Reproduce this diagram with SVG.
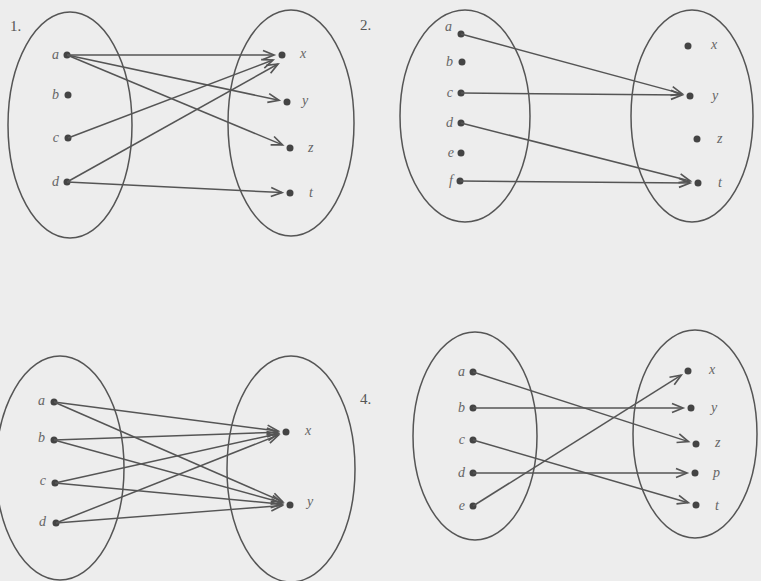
<svg xmlns="http://www.w3.org/2000/svg" width="761" height="581" viewBox="0 0 761 581">
<style>
.set{fill:none;stroke:#555;stroke-width:1.5}
.dot{fill:#444}
.lbl{font-family:"Liberation Serif","DejaVu Serif",serif;font-style:italic;font-size:14px;fill:#666}
.lblL{text-anchor:end}
.num{font-family:"Liberation Serif","DejaVu Serif",serif;font-size:15px;fill:#555}
.e{stroke:#555;stroke-width:1.5;fill:none;marker-end:url(#arr)}
</style>
<defs>
<marker id="arr" markerUnits="userSpaceOnUse" viewBox="-12 -6 13 12" refX="0" refY="0" markerWidth="13" markerHeight="12" orient="auto" overflow="visible">
<path d="M-11,-4.5 L0,0 L-11,4.5" fill="none" stroke="#555" stroke-width="1.7"/>
</marker>
</defs>
<rect width="761" height="581" fill="#ededed"/>

<text class="num" x="10" y="31">1.</text>
<text class="num" x="360" y="30">2.</text>
<text class="num" x="360" y="404">4.</text>

<!-- Panel 1 -->
<g id="p1-domain">
<ellipse class="set" cx="70" cy="125" rx="62" ry="113"/>
<circle class="dot" cx="67" cy="55" r="3.5"/><text class="lbl lblL" x="59" y="59">a</text>
<circle class="dot" cx="68" cy="95" r="3.5"/><text class="lbl lblL" x="59" y="99">b</text>
<circle class="dot" cx="68" cy="138" r="3.5"/><text class="lbl lblL" x="59" y="142">c</text>
<circle class="dot" cx="67" cy="182" r="3.5"/><text class="lbl lblL" x="59" y="186">d</text>
</g>
<g id="p1-codomain">
<ellipse class="set" cx="291" cy="123" rx="63" ry="113"/>
<circle class="dot" cx="282" cy="55" r="3.5"/><text class="lbl" x="300" y="58">x</text>
<circle class="dot" cx="287" cy="102" r="3.5"/><text class="lbl" x="302" y="105">y</text>
<circle class="dot" cx="290" cy="148" r="3.5"/><text class="lbl" x="308" y="152">z</text>
<circle class="dot" cx="290" cy="193" r="3.5"/><text class="lbl" x="309" y="197">t</text>
</g>
<g id="p1-edges">
<line class="e" x1="67" y1="55" x2="274" y2="55"/>
<line class="e" x1="67" y1="55" x2="279" y2="100.3"/>
<line class="e" x1="67" y1="55" x2="282.5" y2="144.9"/>
<line class="e" x1="68" y1="138" x2="273" y2="60"/>
<line class="e" x1="67" y1="182" x2="278" y2="64"/>
<line class="e" x1="67" y1="182" x2="282" y2="192.6"/>
</g>

<!-- Panel 2 -->
<g id="p2-domain">
<ellipse class="set" cx="465" cy="116" rx="65" ry="106"/>
<circle class="dot" cx="461" cy="34" r="3.5"/><text class="lbl lblL" x="452" y="31">a</text>
<circle class="dot" cx="462" cy="62" r="3.5"/><text class="lbl lblL" x="453" y="66">b</text>
<circle class="dot" cx="461" cy="93" r="3.5"/><text class="lbl lblL" x="453" y="97">c</text>
<circle class="dot" cx="461" cy="123" r="3.5"/><text class="lbl lblL" x="453" y="127">d</text>
<circle class="dot" cx="461" cy="153" r="3.5"/><text class="lbl lblL" x="454" y="157">e</text>
<circle class="dot" cx="460" cy="181" r="3.5"/><text class="lbl lblL" x="453" y="185">f</text>
</g>
<g id="p2-codomain">
<ellipse class="set" cx="692" cy="116" rx="61" ry="106"/>
<circle class="dot" cx="688" cy="46" r="3.5"/><text class="lbl" x="711" y="49">x</text>
<circle class="dot" cx="690" cy="96" r="3.5"/><text class="lbl" x="712" y="100">y</text>
<circle class="dot" cx="697" cy="139" r="3.5"/><text class="lbl" x="717" y="143">z</text>
<circle class="dot" cx="698" cy="183" r="3.5"/><text class="lbl" x="718" y="187">t</text>
</g>
<g id="p2-edges">
<line class="e" x1="461" y1="34" x2="682.2" y2="93.9"/>
<line class="e" x1="461" y1="93" x2="682" y2="95"/>
<line class="e" x1="461" y1="123" x2="690.2" y2="181"/>
<line class="e" x1="460" y1="181" x2="690" y2="183"/>
</g>

<!-- Panel 3 -->
<g id="p3-domain">
<ellipse class="set" cx="60" cy="468" rx="64" ry="112"/>
<circle class="dot" cx="54" cy="402" r="3.5"/><text class="lbl lblL" x="45" y="405">a</text>
<circle class="dot" cx="54" cy="440" r="3.5"/><text class="lbl lblL" x="45" y="442">b</text>
<circle class="dot" cx="55" cy="483" r="3.5"/><text class="lbl lblL" x="46" y="485">c</text>
<circle class="dot" cx="56" cy="523" r="3.5"/><text class="lbl lblL" x="46" y="526">d</text>
</g>
<g id="p3-codomain">
<ellipse class="set" cx="291" cy="469" rx="64" ry="113"/>
<circle class="dot" cx="286" cy="432" r="3.5"/><text class="lbl" x="305" y="435">x</text>
<circle class="dot" cx="290" cy="505" r="3.5"/><text class="lbl" x="307" y="506">y</text>
</g>
<g id="p3-edges">
<line class="e" x1="54" y1="402" x2="278" y2="431"/>
<line class="e" x1="54" y1="402" x2="282.7" y2="501.8"/>
<line class="e" x1="54" y1="440" x2="278" y2="432.2"/>
<line class="e" x1="54" y1="440" x2="282.3" y2="502.8"/>
<line class="e" x1="55" y1="483" x2="278.2" y2="433.7"/>
<line class="e" x1="55" y1="483" x2="282" y2="504.2"/>
<line class="e" x1="56" y1="523" x2="278.5" y2="435"/>
<line class="e" x1="56" y1="523" x2="282" y2="505.6"/>
</g>

<!-- Panel 4 -->
<g id="p4-domain">
<ellipse class="set" cx="475" cy="436" rx="62" ry="104"/>
<circle class="dot" cx="473" cy="372" r="3.5"/><text class="lbl lblL" x="465" y="376">a</text>
<circle class="dot" cx="473" cy="408" r="3.5"/><text class="lbl lblL" x="465" y="412">b</text>
<circle class="dot" cx="473" cy="440" r="3.5"/><text class="lbl lblL" x="465" y="444">c</text>
<circle class="dot" cx="473" cy="473" r="3.5"/><text class="lbl lblL" x="465" y="477">d</text>
<circle class="dot" cx="473" cy="506" r="3.5"/><text class="lbl lblL" x="465" y="510">e</text>
</g>
<g id="p4-codomain">
<ellipse class="set" cx="695" cy="434" rx="62" ry="104"/>
<circle class="dot" cx="688" cy="371" r="3.5"/><text class="lbl" x="709" y="374">x</text>
<circle class="dot" cx="691" cy="408" r="3.5"/><text class="lbl" x="711" y="412">y</text>
<circle class="dot" cx="696" cy="444" r="3.5"/><text class="lbl" x="715" y="447">z</text>
<circle class="dot" cx="695" cy="473" r="3.5"/><text class="lbl" x="713" y="477">p</text>
<circle class="dot" cx="696" cy="505" r="3.5"/><text class="lbl" x="715" y="510">t</text>
</g>
<g id="p4-edges">
<line class="e" x1="473" y1="372" x2="688.4" y2="441.6"/>
<line class="e" x1="473" y1="408" x2="683" y2="408"/>
<line class="e" x1="473" y1="440" x2="688.3" y2="502.7"/>
<line class="e" x1="473" y1="473" x2="687" y2="473"/>
<line class="e" x1="473" y1="506" x2="681.2" y2="375.2"/>
</g>
</svg>
